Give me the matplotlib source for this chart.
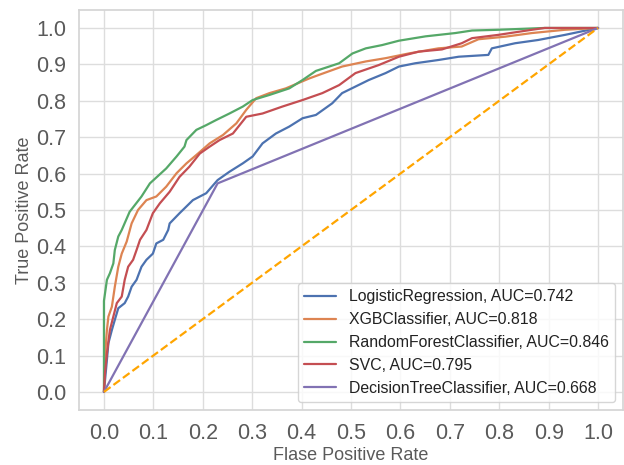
import matplotlib
matplotlib.use('Agg')
import matplotlib.pyplot as plt
import seaborn as sns

sns.set_theme(style='whitegrid')
plt.rcParams['font.family'] = ['Liberation Sans', 'DejaVu Sans']

# ROC points
lr_fpr = [0, 0.006, 0.009, 0.016, 0.022, 0.029, 0.042, 0.049, 0.056, 0.066, 0.076, 0.086, 0.099, 0.106, 0.12, 0.13,
          0.133, 0.153, 0.180, 0.207, 0.230, 0.254, 0.281, 0.301, 0.321, 0.348, 0.375, 0.402, 0.429, 0.462, 0.482,
          0.509, 0.536, 0.570, 0.597, 0.630, 0.677, 0.718, 0.778, 0.785, 0.832, 0.879, 0.933, 1.0]
lr_tpr = [0, 0.088, 0.134, 0.170, 0.198, 0.23, 0.244, 0.262, 0.289, 0.308, 0.344, 0.363, 0.380, 0.408, 0.418, 0.445,
          0.463, 0.491, 0.527, 0.546, 0.582, 0.605, 0.628, 0.647, 0.683, 0.710, 0.729, 0.752, 0.761, 0.793, 0.821,
          0.839, 0.857, 0.876, 0.894, 0.903, 0.912, 0.921, 0.926, 0.944, 0.958, 0.967, 0.981, 1.0]

xgb_fpr = [0, 0.002, 0.006, 0.009, 0.016, 0.022, 0.029, 0.036, 0.046, 0.056, 0.069, 0.086, 0.106, 0.126, 0.147,
           0.167, 0.187, 0.214, 0.241, 0.268, 0.288, 0.308, 0.335, 0.368, 0.415, 0.435, 0.482, 0.530, 0.570, 0.617,
           0.677, 0.724, 0.758, 0.812, 0.866, 0.933, 1.0]
xgb_tpr = [0, 0.097, 0.17, 0.207, 0.234, 0.289, 0.344, 0.38, 0.413, 0.463, 0.5, 0.527, 0.537, 0.564, 0.601,
           0.628, 0.651, 0.683, 0.706, 0.738, 0.775, 0.807, 0.821, 0.834, 0.861, 0.871, 0.894, 0.908, 0.917, 0.930,
           0.944, 0.949, 0.969, 0.976, 0.986, 0.995, 1.0]

rf_fpr = [0, 0, 0.0, 0.006, 0.012, 0.019, 0.022, 0.029, 0.036, 0.052, 0.076, 0.093, 0.126, 0.147, 0.163, 0.167,
          0.187, 0.207, 0.227, 0.254, 0.281, 0.301, 0.335, 0.375, 0.402, 0.429, 0.476, 0.503, 0.530, 0.563, 0.597,
          0.651, 0.711, 0.745, 0.798, 0.892, 1.0]
rf_tpr = [0, 0.1, 0.25, 0.308, 0.326, 0.353, 0.39, 0.427, 0.445, 0.495, 0.537, 0.573, 0.614, 0.647, 0.674, 0.692,
          0.720, 0.733, 0.747, 0.765, 0.784, 0.802, 0.816, 0.834, 0.857, 0.882, 0.903, 0.930, 0.944, 0.953, 0.965,
          0.977, 0.986, 0.993, 0.995, 1.0, 1.0]

svc_fpr = [0, 0.002, 0.006, 0.012, 0.019, 0.026, 0.036, 0.042, 0.049, 0.059, 0.066, 0.073, 0.086, 0.099, 0.113,
           0.133, 0.153, 0.173, 0.194, 0.214, 0.234, 0.261, 0.288, 0.321, 0.361, 0.402, 0.442, 0.476, 0.509, 0.556,
           0.597, 0.637, 0.684, 0.724, 0.745, 0.798, 0.866, 0.892, 1.0]
svc_tpr = [0, 0.051, 0.106, 0.170, 0.207, 0.244, 0.262, 0.308, 0.344, 0.363, 0.390, 0.418, 0.445, 0.491, 0.518,
           0.550, 0.591, 0.619, 0.655, 0.674, 0.692, 0.710, 0.756, 0.765, 0.784, 0.802, 0.821, 0.843, 0.876, 0.898,
           0.921, 0.935, 0.941, 0.958, 0.972, 0.981, 0.995, 1.0, 1.0]

dt_fpr = [0, 0.23, 1.0]
dt_tpr = [0, 0.573, 1.0]

names = ['LogisticRegression', 'XGBClassifier', 'RandomForestClassifier', 'SVC', 'DecisionTreeClassifier']
aucs = [0.742, 0.818, 0.846, 0.795, 0.668]
curves = [(lr_fpr, lr_tpr), (xgb_fpr, xgb_tpr), (rf_fpr, rf_tpr), (svc_fpr, svc_tpr), (dt_fpr, dt_tpr)]
colors = ['#4C72B0', '#DD8452', '#55A868', '#C44E52', '#8172B3']
ticks = [0.0, 0.1, 0.2, 0.3, 0.4, 0.5, 0.6, 0.7, 0.8, 0.9, 1.0]

fig, ax = plt.subplots(figsize=(6.24, 4.65), dpi=100)
fig.subplots_adjust(left=0.127, right=0.998, top=0.979, bottom=0.118)

for (fpr, tpr), name, auc, c in zip(curves, names, aucs, colors):
    ax.plot(fpr, tpr, color=c, lw=1.6, label=f'{name}, AUC={auc}')
ax.plot([0, 1], [0, 1], color='orange', linestyle='--', lw=1.6)

ax.set_xticks(ticks)
ax.set_yticks(ticks)
ax.tick_params(labelsize=15.5, colors='#5a5a5a')
ax.set_xlabel('Flase Positive Rate', fontsize=13, color='#5a5a5a', labelpad=2)
ax.set_ylabel('True Positive Rate', fontsize=13, color='#5a5a5a', labelpad=2)
ax.grid(color='#dddddd', lw=1)
for s in ax.spines.values():
    s.set_color('#d5d5d5')

leg = ax.legend(loc='lower right', fontsize=11.4, frameon=True)
for t in leg.get_texts():
    t.set_color('#222222')

fig.savefig('out.png', dpi=100)
